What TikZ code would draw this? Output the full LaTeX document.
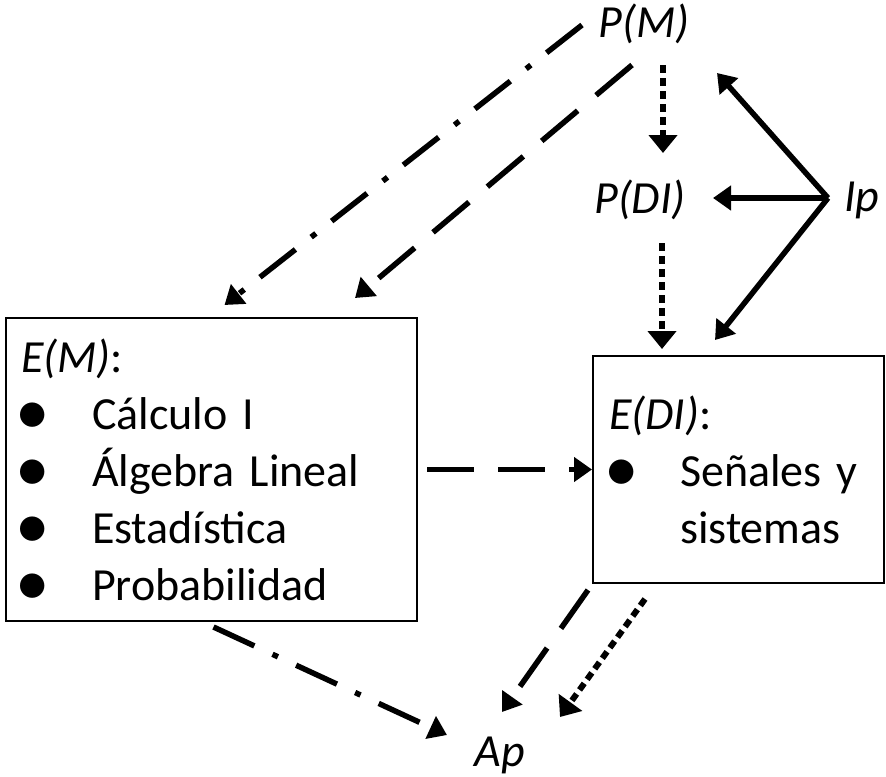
\documentclass[tikz,border=0pt]{standalone}
\usepackage{fontspec}
\setmainfont{Carlito}
\usetikzlibrary{arrows.meta}
\newcommand{\itm}[1]{\makebox[35.5pt][l]{\hspace{-2.5pt}\smash{\raisebox{-2.5pt}{\scalebox{1.5}{\textbullet}}}}#1}

\begin{document}
\begin{tikzpicture}[x=0.5pt,y=-0.5pt]

\tikzset{box/.style = {draw, line width=1pt, align=left, inner xsep=7.5pt, inner ysep=0pt, anchor=north west}}
\tikzset{term/.style = {inner sep=0pt}}
\tikzset{edge/.style = {line width=2.75pt, -{Triangle[length=9pt,width=12pt]}}}
\tikzset{longdash/.style = {edge, dash pattern=on 23.5pt off 12pt}}
\tikzset{dashdot/.style = {edge, dash pattern=on 22.5pt off 10pt on 3pt off 10pt}}
\tikzset{shortdash/.style = {edge, line width=3pt, dash pattern=on 4pt off 2.5pt, -{Triangle[length=9pt,width=14pt]}}}
\tikzset{every node/.style = {font=\fontsize{23}{28.5}\selectfont}}

\useasboundingbox (0,0) rectangle (886,776);

%nodes
\node[term] (PM) at (644,24) {\textit{P(M)}};
\node[term] (PDI) at (640,200) {\textit{P(DI)}};
\node[term] (Ip) at (862,200) {\textit{Ip}};
\node[term] (Ap) at (500,755) {\textit{Ap}};
\node[box, minimum width=205.5pt, minimum height=151.5pt, text width=190.5pt] (EM) at (5,317) {\textit{E(M)}:\\
\itm{Cálculo I}\\
\itm{Álgebra Lineal}\\
\itm{Estadística}\\
\itm{Probabilidad}};
\node[box, inner xsep=8pt, minimum width=145.5pt, minimum height=113.5pt, text width=129.5pt] (EDI) at (592,355) {\textit{E(DI)}:\\
\itm{Señales y}\\
\makebox[35.5pt]{}sistemas};

%edges
\draw[dashdot] ([shift={(-62,1)}]PM.center) -- ([shift={(13,-12)}]EM.north);
\draw[longdash] ([shift={(-12,41)}]PM.center) -- ([shift={(-63,-19)}]EM.north east);
\draw[shortdash] ([shift={(19,41)}]PM.center) -- ([shift={(23,-47)}]PDI.center);
\draw[shortdash] ([shift={(22,43)}]PDI.center) -- ([shift={(70,-6)}]EDI.north west);
\draw[edge] ([shift={(-34,-2)}]Ip.center) -- ([shift={(73,49)}]PM.center);
\draw[edge] ([shift={(-34,-2)}]Ip.center) -- ([shift={(73,-2)}]PDI.center);
\draw[edge] ([shift={(-34,-2)}]Ip.center) -- ([shift={(123,-15)}]EDI.north west);
\draw[longdash] ([shift={(9,0)}]EM.east) -- (EDI.west);
\draw[dashdot] ([shift={(2,5)}]EM.south) -- ([shift={(-53,-20)}]Ap.center);
\draw[longdash] ([shift={(-4,6)}]EDI.south west) -- ([shift={(2,-43)}]Ap.center);
\draw[shortdash] ([shift={(53,15)}]EDI.south west) -- ([shift={(60,-38)}]Ap.center);

\end{tikzpicture}
\end{document}
